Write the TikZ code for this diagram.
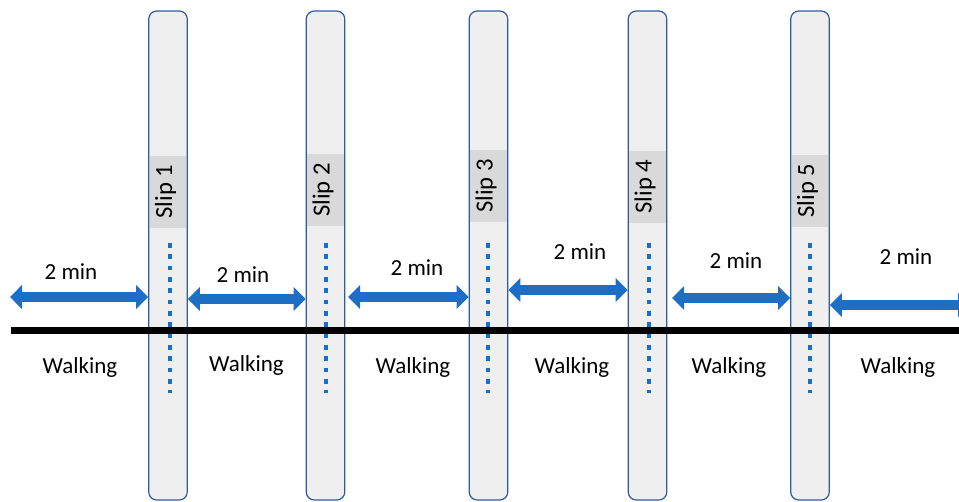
\documentclass[tikz,border=0pt]{standalone}
\usepackage{fontspec}
\setmainfont{Carlito}
\usetikzlibrary{arrows.meta}
\definecolor{barfill}{HTML}{EFEFEF}
\definecolor{barline}{HTML}{2F5C9E}
\definecolor{tagfill}{HTML}{D9D9D9}
\definecolor{arrblue}{HTML}{1E6EC4}
\definecolor{dotblue}{HTML}{1570CC}
\begin{document}
\begin{tikzpicture}[x=0.75pt,y=-0.75pt,
  bar/.style={draw=barline, line width=0.9pt, fill=barfill, rounded corners=6pt,
    minimum width=28.9pt, minimum height=366.75pt, inner sep=0pt},
  tag/.style={fill=tagfill, rotate=90, minimum width=54pt, minimum height=27.6pt,
    inner sep=0pt, text height=0.63em, text depth=0pt,
    font=\fontsize{18.5}{22}\selectfont},
  ground/.style={black, line width=5.25pt},
  dots/.style={dotblue, line width=3.4pt, dash pattern=on 3.4pt off 5.1pt},
  dbl/.style={arrblue, line width=7.5pt,
    {Triangle[length=9pt,width=17.5pt]}-{Triangle[length=9pt,width=17.5pt]}},
  lbl/.style={anchor=base, inner sep=0pt, font=\fontsize{17.25}{20}\selectfont}]
\useasboundingbox (0,0) rectangle (959,501);
\clip (0,0) rectangle (959,501);
% bars
\node[bar] (b1) at (168,255.5) {};
\node[bar] (b2) at (325.5,255.5) {};
\node[bar] (b3) at (488.5,255.5) {};
\node[bar] (b4) at (647.5,255.5) {};
\node[bar] (b5) at (810,255.5) {};
% slip tags
\node[tag] (t1) at (168,191.5) {Slip 1};
\node[tag] (t2) at (325.5,190) {Slip 2};
\node[tag] (t3) at (488.5,186) {Slip 3};
\node[tag] (t4) at (647.5,186.5) {Slip 4};
\node[tag] (t5) at (810,190.5) {Slip 5};
% ground line
\coordinate (gl) at (11,330);
\coordinate (gr) at (962,330);
\draw[ground] (gl) -- (gr);
% dotted lines
\coordinate (d1a) at (170,243); \coordinate (d1b) at (170,393);
\coordinate (d2a) at (326,243); \coordinate (d2b) at (326,393);
\coordinate (d3a) at (488,243); \coordinate (d3b) at (488,393);
\coordinate (d4a) at (649,243); \coordinate (d4b) at (649,393);
\coordinate (d5a) at (810,243); \coordinate (d5b) at (810,393);
\draw[dots] (d1a) -- (d1b);
\draw[dots] (d2a) -- (d2b);
\draw[dots] (d3a) -- (d3b);
\draw[dots] (d4a) -- (d4b);
\draw[dots] (d5a) -- (d5b);
% arrows
\coordinate (a0) at (10,297);
\coordinate (a6) at (970,305);
\draw[dbl] (a0) -- (b1.west |- a0);
\draw[dbl] (b1.east |- 0,299) -- (b2.west |- 0,299);
\draw[dbl] ([xshift=2pt]b2.east |- 0,297) -- (b3.west |- 0,297);
\draw[dbl] (b3.east |- 0,290) -- (b4.west |- 0,290);
\draw[dbl] ([xshift=3.5pt]b4.east |- 0,298) -- (b5.west |- 0,298);
\draw[dbl] (b5.east |- a6) -- (a6);
% time labels
\node[lbl] (m1) at (71,279) {2 min};
\node[lbl] (m2) at (243,282) {2 min};
\node[lbl] (m3) at (417,275) {2 min};
\node[lbl] (m4) at (580,259) {2 min};
\node[lbl] (m5) at (736,268) {2 min};
\node[lbl] (m6) at (906,264) {2 min};
% walking labels
\node[lbl] (w1) at (80,373) {Walking};
\node[lbl] (w2) at (246.5,371) {Walking};
\node[lbl] (w3) at (413,373) {Walking};
\node[lbl] (w4) at (572,373) {Walking};
\node[lbl] (w5) at (729,373) {Walking};
\node[lbl] (w6) at (898,373) {Walking};
\end{tikzpicture}
\end{document}
